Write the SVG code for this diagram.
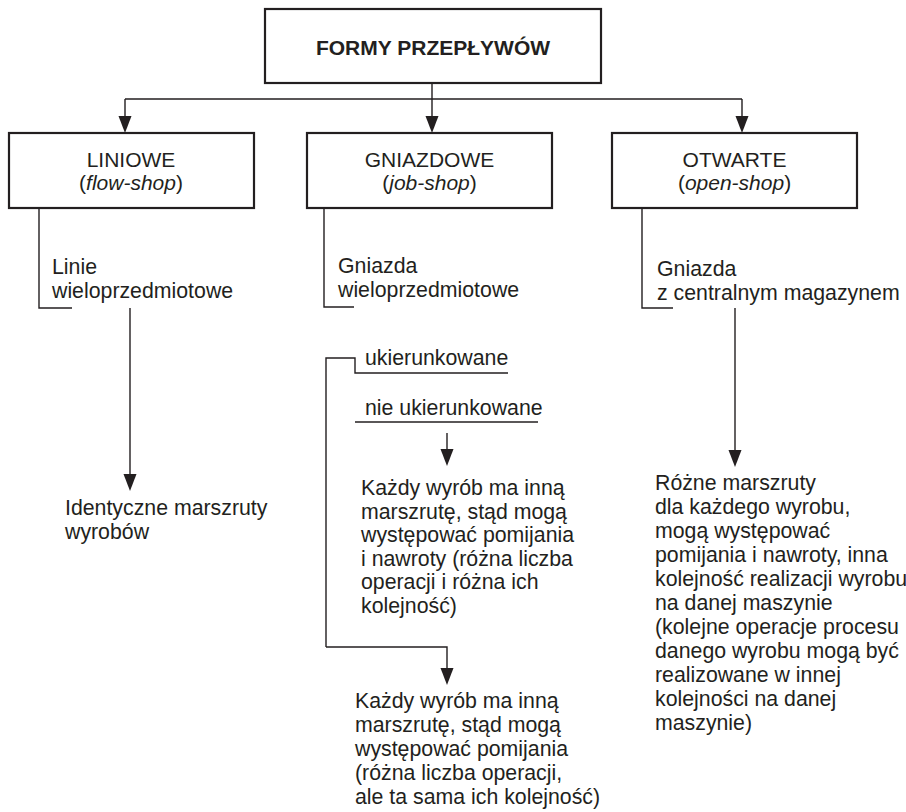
<svg xmlns="http://www.w3.org/2000/svg" width="906" height="812" viewBox="0 0 906 812">
<defs>
<style>
.box{fill:#fff;stroke:#231f20;stroke-width:2.2}
.ln{fill:none;stroke:#231f20;stroke-width:1.4}
.ah{fill:#231f20}
text{font-family:"Liberation Sans",Arial,sans-serif;fill:#231f20}
.t{font-size:21.3px}
.h{font-size:21px;text-anchor:middle}
.b{font-size:21px;font-weight:bold;text-anchor:middle}
.i{font-style:italic}
</style>
</defs>
<rect width="906" height="812" fill="#fff"/>
<g id="connectors">
<path class="ln" d="M432,83V116M125,99H742M125,99V118M742,99V118"/>
<polygon class="ah" points="118.5,116 131.5,116 125,133"/>
<polygon class="ah" points="425.5,116 438.5,116 432,133"/>
<polygon class="ah" points="735.5,116 748.5,116 742,133"/>
<path class="ln" d="M39,208V308H72"/>
<path class="ln" d="M130,308V476"/>
<polygon class="ah" points="123.5,474 136.5,474 130,491"/>
<path class="ln" d="M324,208V307H354"/>
<path class="ln" d="M642,208V308H673"/>
<path class="ln" d="M735,308V452"/>
<polygon class="ah" points="728.5,450 741.5,450 735,467"/>
<path class="ln" d="M326,647V358H355V373H508"/>
<path class="ln" d="M355,422H538"/>
<path class="ln" d="M447,433V452"/>
<polygon class="ah" points="440.5,449 453.5,449 447,466"/>
<path class="ln" d="M326,647H447V670"/>
<polygon class="ah" points="440.5,668 453.5,668 447,685"/>
</g>
<g id="root">
<rect class="box" x="265" y="9" width="336" height="74"/>
<text class="b" x="433" y="55">FORMY PRZEPŁYWÓW</text>
</g>
<g id="liniowe">
<rect class="box" x="9" y="133" width="245" height="75"/>
<text class="h" x="131" y="167">LINIOWE</text>
<text class="h" x="131" y="190">(<tspan class="i">flow-shop</tspan>)</text>
</g>
<g id="gniazdowe">
<rect class="box" x="307" y="133" width="245" height="75"/>
<text class="h" x="429.5" y="167">GNIAZDOWE</text>
<text class="h" x="429.5" y="190">(<tspan class="i">job-shop</tspan>)</text>
</g>
<g id="otwarte">
<rect class="box" x="612" y="133" width="245" height="75"/>
<text class="h" x="734.5" y="167">OTWARTE</text>
<text class="h" x="734.5" y="190">(<tspan class="i">open-shop</tspan>)</text>
</g>
<g id="linie">
<text class="t" x="52" y="274">Linie</text>
<text class="t" x="52" y="298">wieloprzedmiotowe</text>
</g>
<g id="gniazda-wielo">
<text class="t" x="338" y="273">Gniazda</text>
<text class="t" x="338" y="297">wieloprzedmiotowe</text>
</g>
<g id="gniazda-central">
<text class="t" x="657" y="276">Gniazda</text>
<text class="t" x="657" y="300">z centralnym magazynem</text>
</g>
<g id="identyczne">
<text class="t" x="65" y="515">Identyczne marszruty</text>
<text class="t" x="65" y="539">wyrobów</text>
</g>
<g id="ukierunkowane">
<text class="t" x="365" y="365">ukierunkowane</text>
</g>
<g id="nie-ukierunkowane">
<text class="t" x="365" y="415">nie ukierunkowane</text>
</g>
<g id="opis-nieukierunkowane">
<text class="t" x="361" y="495">Każdy wyrób ma inną</text>
<text class="t" x="361" y="518.5">marszrutę, stąd mogą</text>
<text class="t" x="361" y="542">występować pomijania</text>
<text class="t" x="361" y="565.5">i nawroty (różna liczba</text>
<text class="t" x="361" y="589">operacji i różna ich</text>
<text class="t" x="361" y="612.5">kolejność)</text>
</g>
<g id="opis-ukierunkowane">
<text class="t" x="355" y="708">Każdy wyrób ma inną</text>
<text class="t" x="355" y="732">marszrutę, stąd mogą</text>
<text class="t" x="355" y="756">występować pomijania</text>
<text class="t" x="355" y="780">(różna liczba operacji,</text>
<text class="t" x="355" y="804">ale ta sama ich kolejność)</text>
</g>
<g id="opis-otwarte">
<text class="t" x="655" y="490">Różne marszruty</text>
<text class="t" x="655" y="514">dla każdego wyrobu,</text>
<text class="t" x="655" y="538">mogą występować</text>
<text class="t" x="655" y="562">pomijania i nawroty, inna</text>
<text class="t" x="655" y="586">kolejność realizacji wyrobu</text>
<text class="t" x="655" y="610">na danej maszynie</text>
<text class="t" x="655" y="634">(kolejne operacje procesu</text>
<text class="t" x="655" y="658">danego wyrobu mogą być</text>
<text class="t" x="655" y="682">realizowane w innej</text>
<text class="t" x="655" y="706">kolejności na danej</text>
<text class="t" x="655" y="730">maszynie)</text>
</g>
</svg>
